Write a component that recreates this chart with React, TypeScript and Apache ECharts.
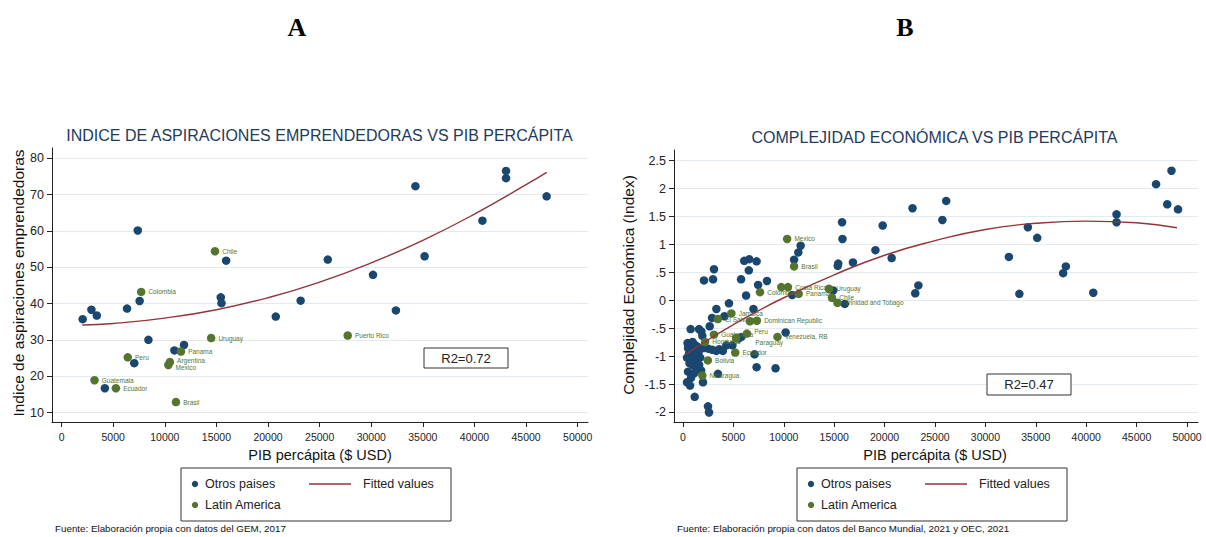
import React, { useEffect, useRef } from "react";
import * as echarts from "echarts";

// ---------- Colours ----------
const BLUE = "#1a476f";
const GREEN = "#55752f";
const RED = "#90353b";
const GRID = "#e3ebf0";
const AXIS = "#222222";
const FONT = "'Liberation Sans', Arial, sans-serif";

// ---------- Shared ticks ----------
const xTicks = [0, 5000, 10000, 15000, 20000, 25000, 30000, 35000, 40000, 45000, 50000];

// ---------- Chart A: Indice de aspiraciones emprendedoras ----------
const aYTicks = [10, 20, 30, 40, 50, 60, 70, 80];
const aOtros: [number, number][] = [
  [2040, 35.7], [2890, 38.3], [3410, 36.7], [4190, 16.7], [6340, 38.6],
  [7380, 60.1], [7560, 40.7], [7040, 23.6], [8410, 30.0], [10930, 27.1],
  [11860, 28.6], [15940, 51.8], [15420, 41.7], [15490, 40.1], [20750, 36.4],
  [23160, 40.8], [25790, 52.1], [30170, 47.9], [32390, 38.1], [34280, 72.3],
  [35170, 53.0], [40770, 62.8], [43060, 76.5], [43060, 74.5], [46990, 69.5],
];
const aLatamNames = ["Chile", "Colombia", "Uruguay", "Puerto Rico", "Panama", "Peru", "Argentina", "Mexico", "Guatemala", "Ecuador", "Brasil"];
const aLatamX = [14860, 7710, 14490, 27720, 11560, 6410, 10490, 10340, 3190, 5260, 11080];
const aLatamY = [54.4, 43.2, 30.5, 31.2, 26.8, 25.2, 23.9, 23.1, 18.9, 16.7, 12.9];
const aFitX = [2000, 5000, 10000, 15000, 20000, 25000, 30000, 35000, 40000, 45000, 47000];
const aFitY = [34.1, 34.5, 36.0, 38.3, 41.6, 45.9, 51.2, 57.4, 64.6, 72.7, 76.1];

// ---------- Chart B: Complejidad económica ----------
const bYTicks = [-2, -1.5, -1, -0.5, 0, 0.5, 1, 1.5, 2, 2.5];
const bOtros: [number, number][] = [
  [48460, 2.32], [46930, 2.08], [48040, 1.72], [49110, 1.63], [43010, 1.54],
  [43010, 1.40], [34210, 1.31], [35140, 1.12], [32330, 0.78], [33370, 0.12],
  [37710, 0.49], [37980, 0.61], [40700, 0.14], [26110, 1.78], [25730, 1.44],
  [22770, 1.65], [23350, 0.27], [23040, 0.13], [20700, 0.76], [19810, 1.34],
  [19090, 0.90], [16860, 0.68], [15780, 1.40], [15820, 1.10], [15400, 0.66],
  [15350, 0.62], [16050, -0.06], [14900, 0.18], [11670, 0.98], [11440, 0.86],
  [11020, 0.73], [10830, 0.10], [10180, -0.57], [9180, -1.21], [8330, 0.35],
  [7450, 0.28], [7300, 0.70], [6570, 0.74], [6070, 0.71], [6530, 0.54],
  [5760, 0.38], [6260, 0.09], [6990, -0.15], [7300, -1.19], [7100, -0.96],
  [3075, 0.56], [2980, 0.38], [2080, 0.36], [4560, -0.05], [3310, -0.15],
  [2880, -0.31], [4110, -0.28], [2650, -0.46], [760, -0.51], [1590, -0.51],
  [1820, -0.55], [1920, -0.63], [5790, -0.65], [5500, -0.68], [4900, -0.80],
  [4300, -0.80], [3950, -0.90], [3600, -0.87], [3300, -0.90], [2900, -0.88],
  [2500, -0.86], [2100, -0.85], [3470, -1.31], [1980, -1.46], [1160, -1.72],
  [2480, -1.89], [2580, -2.00],
  [450, -0.76], [700, -0.77], [950, -0.74], [1150, -0.79], [500, -0.85],
  [800, -0.83], [1050, -0.88], [1400, -0.82], [600, -0.95], [900, -0.97],
  [1250, -0.95], [1550, -0.92], [400, -1.02], [750, -1.05], [1050, -1.03],
  [1350, -1.08], [1700, -1.02], [650, -1.12], [950, -1.15], [1250, -1.18],
  [1600, -1.15], [1800, -1.25], [500, -1.27], [1100, -1.30], [800, -1.38],
  [400, -1.46], [700, -1.52],
];
const bLatamNames = ["Mexico", "Brasil", "", "Costa Rica", "Colombia", "Panama", "Uruguay", "Chile", "Trinidad and Tobago", "Jamaica", "El Salvador", "", "Dominican Republic", "Peru", "Paraguay", "Guatemala", "Honduras", "Venezuela, RB", "Ecuador", "Bolivia", "Nicaragua"];
const bLatamX = [10330, 11020, 9750, 10410, 7640, 11480, 14480, 14780, 15320, 4800, 3460, 6640, 7330, 6340, 5260, 3070, 2190, 9370, 5180, 2460, 1920];
const bLatamY = [1.10, 0.61, 0.24, 0.24, 0.15, 0.12, 0.21, 0.05, -0.04, -0.23, -0.33, -0.37, -0.36, -0.59, -0.67, -0.61, -0.74, -0.65, -0.93, -1.07, -1.34];
const bFitX = [300, 2500, 5000, 7500, 10000, 15000, 20000, 25000, 30000, 35000, 40000, 45000, 49000];
const bFitY = [-0.96, -0.70, -0.43, -0.18, 0.05, 0.46, 0.81, 1.07, 1.27, 1.38, 1.42, 1.39, 1.30];

// Small label nudges (pixels) so that crowded labels stay legible
const aLabelNudge: Record<string, [number, number]> = {
  Argentina: [0, -2],
  Mexico: [0, 3],
};
const bLabelNudge: Record<string, [number, number]> = {
  Paraguay: [12, 4],
  Peru: [0, -2],
};

function latamData(names: string[], xs: number[], ys: number[], nudge: Record<string, [number, number]>) {
  return names.map((n, i) => ({
    name: n,
    value: [xs[i], ys[i]],
    label: { show: n !== "", offset: nudge[n] ? nudge[n] : [0, 0] },
  }));
}

function pairs(xs: number[], ys: number[]) {
  return xs.map((x, i) => [x, ys[i]]);
}

function xAxisDef(gridIndex: number, min: number, max: number) {
  return {
    type: "value",
    gridIndex,
    min,
    max,
    splitLine: { show: false },
    axisLine: { show: true, onZero: false, lineStyle: { color: AXIS, width: 1 } },
    axisTick: { show: true, length: 5, customValues: xTicks, lineStyle: { color: AXIS } },
    axisLabel: {
      customValues: xTicks, fontSize: 10.5, color: AXIS, margin: 9, fontFamily: FONT,
      formatter: (v: number) => String(Math.round(v)),
    },
  };
}

function yAxisDef(gridIndex: number, min: number, max: number, ticks: number[], fmt?: (v: number) => string) {
  return {
    type: "value",
    gridIndex,
    min,
    max,
    splitLine: { show: true, lineStyle: { color: GRID, width: 1.2 } },
    axisLine: { show: true, onZero: false, lineStyle: { color: AXIS, width: 1 } },
    axisTick: { show: true, length: 5, customValues: ticks, lineStyle: { color: AXIS } },
    axisLabel: { customValues: ticks, fontSize: 12.5, color: AXIS, margin: 8, fontFamily: FONT, formatter: fmt },
  };
}

const labelStyle = {
  position: "right",
  distance: 3,
  formatter: "{b}",
  fontSize: 6.5,
  color: GREEN,
  fontFamily: FONT,
};

function legendGraphics(x0: number) {
  const y1 = 484;
  const y2 = 505;
  const t = { fontSize: 12.5, fill: "#222", fontFamily: FONT, textVerticalAlign: "middle" };
  return [
    { type: "rect", shape: { x: x0, y: 468, width: 270, height: 53 }, style: { fill: "#fff", stroke: "#333", lineWidth: 1 } },
    { type: "circle", shape: { cx: x0 + 14, cy: y1, r: 3.2 }, style: { fill: BLUE } },
    { type: "text", x: x0 + 24, y: y1, style: { ...t, text: "Otros paises" } },
    { type: "line", shape: { x1: x0 + 128, y1: y1, x2: x0 + 170, y2: y1 }, style: { stroke: RED, lineWidth: 1.5 } },
    { type: "text", x: x0 + 182, y: y1, style: { ...t, text: "Fitted values" } },
    { type: "circle", shape: { cx: x0 + 14, cy: y2, r: 3.2 }, style: { fill: GREEN } },
    { type: "text", x: x0 + 24, y: y2, style: { ...t, text: "Latin America" } },
  ];
}

function r2Box(x: number, y: number, w: number, h: number, text: string) {
  return [
    { type: "rect", z: 10, shape: { x, y, width: w, height: h }, style: { fill: "#fff", stroke: "#333", lineWidth: 1 } },
    { type: "text", z: 11, x: x + w / 2, y: y + h / 2, style: { text, fontSize: 13, fill: "#222", fontFamily: FONT, textAlign: "center", textVerticalAlign: "middle" } },
  ];
}

const option = {
  animation: false,
  backgroundColor: "#ffffff",
  textStyle: { fontFamily: FONT },
  grid: [
    { left: 52, top: 148, width: 536, height: 274, containLabel: false },
    { left: 674, top: 150, width: 524, height: 272, containLabel: false },
  ],
  xAxis: [xAxisDef(0, -930, 51000), xAxisDef(1, -893, 51090)],
  yAxis: [
    yAxisDef(0, 7.4, 82.8, aYTicks),
    yAxisDef(1, -2.17, 2.69, bYTicks, (v: number) => String(v).replace(/^(-?)0\./, "$1.")),
  ],
  series: [
    {
      name: "Otros paises", type: "scatter", xAxisIndex: 0, yAxisIndex: 0,
      symbolSize: 8.5, itemStyle: { color: BLUE, opacity: 1 }, data: aOtros,
    },
    {
      name: "Latin America", type: "scatter", xAxisIndex: 0, yAxisIndex: 0,
      symbolSize: 8.5, itemStyle: { color: GREEN, opacity: 1 }, label: labelStyle,
      data: latamData(aLatamNames, aLatamX, aLatamY, aLabelNudge),
    },
    {
      name: "Fitted values", type: "line", xAxisIndex: 0, yAxisIndex: 0,
      smooth: true, showSymbol: false, symbol: "none",
      lineStyle: { color: RED, width: 1.4 }, data: pairs(aFitX, aFitY), z: 5,
    },
    {
      name: "Otros paises", type: "scatter", xAxisIndex: 1, yAxisIndex: 1,
      symbolSize: 8.5, itemStyle: { color: BLUE, opacity: 1 }, data: bOtros,
    },
    {
      name: "Latin America", type: "scatter", xAxisIndex: 1, yAxisIndex: 1,
      symbolSize: 8.5, itemStyle: { color: GREEN, opacity: 1 }, label: labelStyle,
      data: latamData(bLatamNames, bLatamX, bLatamY, bLabelNudge),
    },
    {
      name: "Fitted values", type: "line", xAxisIndex: 1, yAxisIndex: 1,
      smooth: true, showSymbol: false, symbol: "none",
      lineStyle: { color: RED, width: 1.4 }, data: pairs(bFitX, bFitY), z: 5,
    },
  ],
  graphic: [
    { type: "text", x: 297, y: 27, style: { text: "A", fontSize: 26, fontWeight: "bold", fill: "#000", fontFamily: "'Liberation Serif', 'DejaVu Serif', serif", textAlign: "center", textVerticalAlign: "middle" } },
    { type: "text", x: 905, y: 27, style: { text: "B", fontSize: 26, fontWeight: "bold", fill: "#000", fontFamily: "'Liberation Serif', 'DejaVu Serif', serif", textAlign: "center", textVerticalAlign: "middle" } },
    { type: "text", x: 319.5, y: 135, style: { text: "INDICE DE ASPIRACIONES EMPRENDEDORAS VS PIB PERCÁPITA", fontSize: 16, fill: "#1e3a5c", fontFamily: FONT, textAlign: "center", textVerticalAlign: "middle" } },
    { type: "text", x: 934.5, y: 137, style: { text: "COMPLEJIDAD ECONÓMICA VS PIB PERCÁPITA", fontSize: 16, fill: "#1e3a5c", fontFamily: FONT, textAlign: "center", textVerticalAlign: "middle" } },
    { type: "text", x: 18.5, y: 283, rotation: Math.PI / 2, style: { text: "Indice de aspiraciones emprendedoras", fontSize: 15.5, fill: "#111", fontFamily: FONT, textAlign: "center", textVerticalAlign: "middle" } },
    { type: "text", x: 628, y: 285, rotation: Math.PI / 2, style: { text: "Complejidad Económica (Index)", fontSize: 15.5, fill: "#111", fontFamily: FONT, textAlign: "center", textVerticalAlign: "middle" } },
    { type: "text", x: 320, y: 455, style: { text: "PIB percápita ($ USD)", fontSize: 14.5, fill: "#111", fontFamily: FONT, textAlign: "center", textVerticalAlign: "middle" } },
    { type: "text", x: 935, y: 455, style: { text: "PIB percápita ($ USD)", fontSize: 14.5, fill: "#111", fontFamily: FONT, textAlign: "center", textVerticalAlign: "middle" } },
    ...r2Box(424, 348, 84, 20, "R2=0.72"),
    ...r2Box(987, 374, 84, 21, "R2=0.47"),
    ...legendGraphics(181),
    ...legendGraphics(797),
    { type: "text", x: 55, y: 528, style: { text: "Fuente: Elaboración propia con datos del GEM, 2017", fontSize: 9.8, fill: "#111", fontFamily: FONT, textVerticalAlign: "middle" } },
    { type: "text", x: 677, y: 528, style: { text: "Fuente: Elaboración propia con datos del Banco Mundial, 2021 y OEC, 2021", fontSize: 9.8, fill: "#111", fontFamily: FONT, textVerticalAlign: "middle" } },
  ],
};

export default function App() {
  const ref = useRef<HTMLDivElement>(null);
  useEffect(() => {
    if (!ref.current) return;
    const chart = echarts.init(ref.current, undefined, { renderer: "svg" });
    chart.setOption(option as any);
    return () => chart.dispose();
  }, []);
  return (
    <div
      ref={ref}
      style={{ position: "absolute", left: 0, top: 0, width: 1206, height: 537, background: "#fff" }}
    />
  );
}
